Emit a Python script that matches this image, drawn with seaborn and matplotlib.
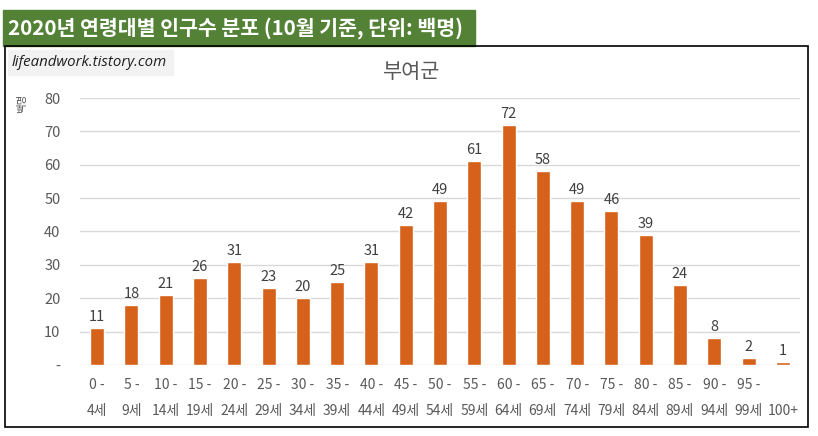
import matplotlib
matplotlib.use("Agg")
import matplotlib.pyplot as plt
import seaborn as sns
import pandas as pd
from matplotlib.patches import Rectangle

sns.set_style("white")
plt.rcParams['font.family'] = ['Noto Sans CJK KR', 'DejaVu Sans']

# data (unit: hundreds of people)
age_labels = ["0 -\n4세", "5 -\n9세", "10 -\n14세", "15 -\n19세", "20 -\n24세",
              "25 -\n29세", "30 -\n34세", "35 -\n39세", "40 -\n44세", "45 -\n49세",
              "50 -\n54세", "55 -\n59세", "60 -\n64세", "65 -\n69세", "70 -\n74세",
              "75 -\n79세", "80 -\n84세", "85 -\n89세", "90 -\n94세", "95 -\n99세",
              "\n100+"]
population = [11, 18, 21, 26, 31, 23, 20, 25, 31, 42, 49,
              61, 72, 58, 49, 46, 39, 24, 8, 2, 1]
y_ticks = [0, 10, 20, 30, 40, 50, 60, 70, 80]
y_tick_labels = ["-", "10", "20", "30", "40", "50", "60", "70", "80"]

df = pd.DataFrame({"age": age_labels, "pop": population})

W, H = 818, 436
fig = plt.figure(figsize=(W / 100, H / 100), dpi=100)

# header bar
fig.patches.append(Rectangle((3 / W, 1 - 46 / H), 472 / W, 36 / H,
                             transform=fig.transFigure, color="#538135", zorder=0))
fig.text(8 / W, 1 - 28 / H, "2020년 연령대별 인구수 분포 (10월 기준, 단위: 백명)",
         color="white", fontsize=14.8, fontweight="bold", va="center", ha="left")

# chart frame
fig.patches.append(Rectangle((5 / W, 1 - 427 / H), 803 / W, 381 / H,
                             transform=fig.transFigure, fill=False,
                             edgecolor="black", linewidth=1.2, zorder=1))

# watermark
fig.patches.append(Rectangle((8 / W, 1 - 75 / H), 165 / W, 25 / H,
                             transform=fig.transFigure, color="#F2F2F2", zorder=1))
fig.text(12 / W, 1 - 62 / H, "lifeandwork.tistory.com", fontsize=10.8,
         style="italic", color="#202020", va="center", ha="left",
         family=["Open Sans", "DejaVu Sans"])

fig.text(412 / W, 1 - 72 / H, "부여군", fontsize=15, color="#595959",
         ha="center", va="center")

ax = fig.add_axes([80 / W, 1 - 365 / H, 720 / W, 267 / H])
sns.barplot(data=df, x="age", y="pop", color="#D5611A", width=0.41,
            saturation=1, ax=ax)

for i, v in enumerate(population):
    ax.text(i, v + 1.2, str(v), ha="center", va="bottom",
            fontsize=10.5, color="#404040")

ax.set_ylim(0, 80)
ax.set_xlim(-0.5, len(population) - 0.5)
ax.set_yticks(y_ticks)
ax.set_yticklabels(y_tick_labels)
ax.yaxis.grid(True, color="#D9D9D9", linewidth=1)
ax.set_axisbelow(True)
for s in ax.spines.values():
    s.set_visible(False)
ax.tick_params(axis="y", length=0, pad=14, labelsize=10.5, labelcolor="#595959")
ax.tick_params(axis="x", length=0, pad=9, labelsize=10, labelcolor="#595959")
for lbl in ax.get_xticklabels():
    lbl.set_linespacing(2.1)
ax.set_xlabel("")
ax.set_ylabel("")

fig.text(22 / W, 1 - 103 / H, "백명", fontsize=7.5, color="#595959",
         rotation=90, ha="center", va="center")

fig.savefig("out.png", dpi=100)
